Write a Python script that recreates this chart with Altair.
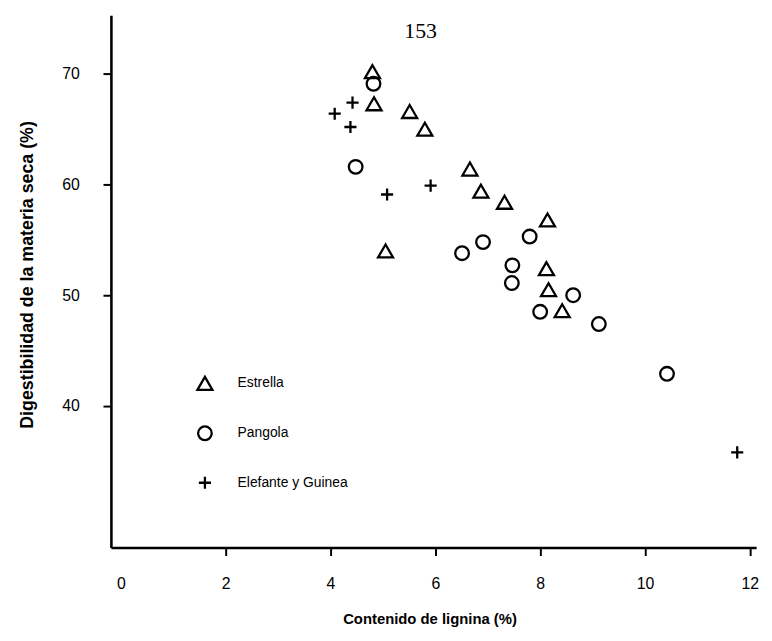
import altair as alt
import pandas as pd

# Data
series = ["Estrella", "Pangola", "Elefante y Guinea"]

estrella_x = [4.80, 4.83, 5.51, 5.80, 6.66, 6.87, 7.32, 8.14, 5.05, 8.12, 8.16, 8.42]
estrella_y = [70.2, 67.3, 66.6, 65.0, 61.4, 59.4, 58.4, 56.8, 54.0, 52.4, 50.5, 48.6]

pangola_x = [4.82, 4.48, 6.51, 6.91, 7.80, 7.47, 7.46, 8.63, 8.00, 9.12, 10.42]
pangola_y = [69.1, 61.6, 53.8, 54.8, 55.3, 52.7, 51.1, 50.0, 48.5, 47.4, 42.9]

elefante_x = [4.08, 4.42, 4.38, 5.08, 5.91, 11.76]
elefante_y = [66.4, 67.4, 65.2, 59.1, 59.9, 35.8]

x_ticks = [0, 2, 4, 6, 8, 10, 12]
y_ticks = [40, 50, 60, 70]

page_number = "153"

rows = []
for name, xs, ys in [
    (series[0], estrella_x, estrella_y),
    (series[1], pangola_x, pangola_y),
    (series[2], elefante_x, elefante_y),
]:
    for xv, yv in zip(xs, ys):
        rows.append({"lignina": xv, "digest": yv, "serie": name})
df = pd.DataFrame(rows)

plus_path = "M-1,0H1M0,-1V1"

points = alt.Chart(df).mark_point(
    filled=False, color="black", strokeWidth=2.3, opacity=1
).encode(
    x=alt.X(
        "lignina:Q",
        scale=alt.Scale(domain=[-0.19, 12.12], nice=False, zero=False),
        axis=alt.Axis(
            values=x_ticks,
            title="Contenido de lignina (%)",
            labelPadding=20,
            titleX=322,
            titleY=72,
            titleAlign="center",
            titleBaseline="middle",
            titleFontSize=15,
            tickOpacity=alt.expr("datum.value == 0 ? 0 : 1"),
        ),
    ),
    y=alt.Y(
        "digest:Q",
        scale=alt.Scale(domain=[27.2, 75.3], nice=False, zero=False),
        axis=alt.Axis(
            values=y_ticks,
            title="Digestibilidad de la materia seca (%)",
            labelPadding=24,
            titleX=-84,
            titleY=262,
            titleAngle=-90,
            titleAlign="center",
            titleBaseline="middle",
            titleFontSize=18,
        ),
    ),
    shape=alt.Shape(
        "serie:N",
        scale=alt.Scale(domain=series, range=["triangle-up", "circle", plus_path]),
        legend=alt.Legend(
            title=None,
            orient="none",
            legendX=86,
            legendY=363,
            padding=0,
            rowPadding=27,
            labelOffset=24,
            labelFont="Liberation Sans",
            labelFontSize=14,
            labelColor="black",
            symbolStrokeColor="black",
            symbolStrokeWidth=2.3,
            symbolFillColor="transparent",
        ),
    ),
    size=alt.Size(
        "serie:N",
        scale=alt.Scale(domain=series, range=[230, 150, 200]),
    ),
)

label = alt.Chart(pd.DataFrame({"t": [page_number]})).mark_text(
    font="Liberation Serif", fontSize=22, color="black", align="center", baseline="middle"
).encode(text="t:N", x=alt.value(313), y=alt.value(16))

chart = alt.layer(points, label).properties(
    width=652,
    height=538,
    padding={"left": 104, "top": 4, "right": 8, "bottom": 79},
    autosize=alt.AutoSizeParams(type="none"),
    background="white",
).configure_view(stroke=None).configure_axis(
    grid=False,
    domainColor="black",
    domainWidth=2.6,
    tickColor="black",
    tickWidth=2,
    tickSize=8,
    labelColor="black",
    labelFont="Liberation Sans",
    labelFontSize=16,
    titleColor="black",
    titleFont="Liberation Sans",
    titleFontSize=14,
    titleFontWeight="bold",
)

chart.save("out.html", embed_options={"renderer": "svg", "actions": False})
